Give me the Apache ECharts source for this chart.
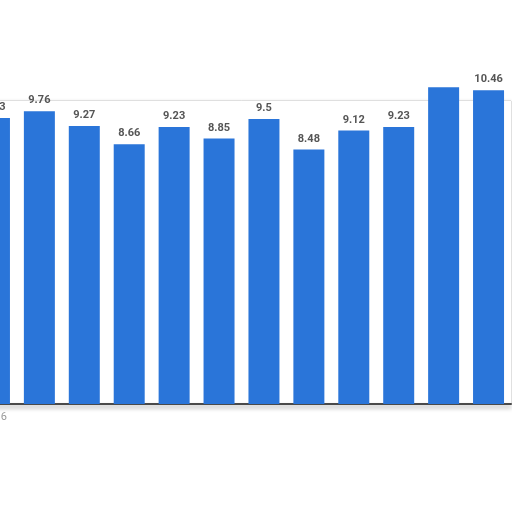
<!DOCTYPE html>
<html>
<head>
<meta charset="utf-8">
<script src="https://cdn.jsdelivr.net/npm/echarts@6/dist/echarts.min.js"></script>
<style>
  html, body { margin: 0; padding: 0; background: #fff; overflow: hidden; }
  /* the chart runs off the left edge of the picture, so the box is shifted left */
  #main { width: 540px; height: 512px; margin-left: -28px; }
</style>
</head>
<body>
<div id="main"></div>
<script>
var myChart = echarts.init(document.getElementById('main'));

// categories (only the first one shows up, cut off at the left edge)
var years = ['2016', '2017', '2018', '2019', '2020', '2021', '2022', '2023', '2024', '2025', '2026', '2027'];
// bar values
var values = [9.53, 9.76, 9.27, 8.66, 9.23, 8.85, 9.5, 8.48, 9.12, 9.23, 10.56, 10.46];
// labels that are not visible in the picture
var hiddenLabels = [10];

var barData = values.map(function (v, i) {
  if (hiddenLabels.indexOf(i) >= 0) {
    return { value: v, label: { show: false } };
  }
  return v;
});

var option = {
  animation: false,
  backgroundColor: '#fff',
  grid: {
    left: 0,
    right: 1,
    top: 101,
    bottom: 108,
    show: true,
    borderColor: '#c9c9c9',
    borderWidth: 1,
    shadowColor: 'rgba(0,0,0,0.15)',
    shadowBlur: 3
  },
  xAxis: {
    type: 'category',
    data: years,
    axisTick: { show: false },
    axisLine: {
      lineStyle: {
        color: '#4a4a4a',
        width: 2,
        shadowColor: 'rgba(0,0,0,0.35)',
        shadowBlur: 4,
        shadowOffsetY: 3
      }
    },
    axisLabel: {
      interval: function (index) { return index === 0; },
      color: '#999',
      fontSize: 11,
      margin: 8,
      fontFamily: 'Roboto'
    },
    splitArea: {
      show: true,
      areaStyle: { color: ['#ffffff', '#f8f8f8'] }
    }
  },
  yAxis: {
    type: 'value',
    min: 0,
    max: 10.1,
    interval: 2,
    axisLabel: { show: false },
    axisLine: { show: false },
    axisTick: { show: false },
    splitLine: {
      lineStyle: { color: '#d6d6d6', type: 'dotted' }
    }
  },
  series: [
    {
      type: 'bar',
      data: barData,
      clip: false,
      barCategoryGap: '31%',
      itemStyle: { color: '#2a75d9' },
      label: {
        show: true,
        position: 'top',
        distance: 5,
        color: '#555',
        fontSize: 11,
        fontWeight: 'bold',
        fontFamily: 'Roboto'
      }
    }
  ]
};

option && myChart.setOption(option);
</script>
</body>
</html>
